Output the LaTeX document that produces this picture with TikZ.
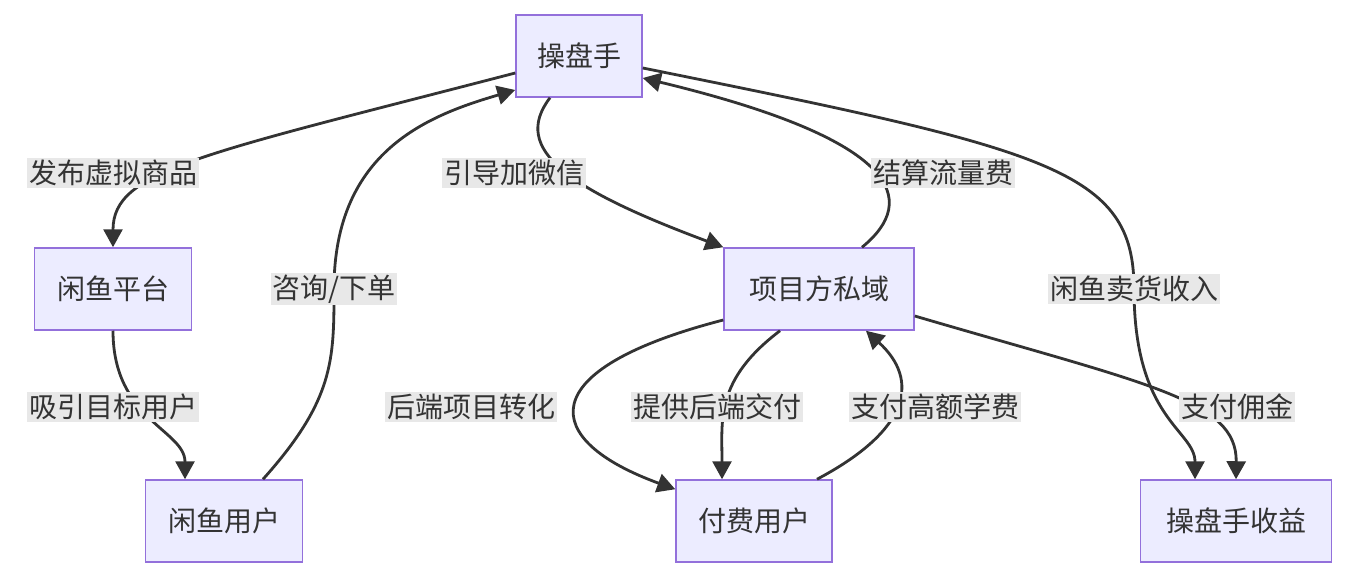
\documentclass[tikz,border=0pt]{standalone}
\usepackage{fontspec}
\setmainfont{Noto Sans CJK SC}
\usetikzlibrary{arrows.meta}
\definecolor{nodefill}{HTML}{ECECFF}
\definecolor{nodeline}{HTML}{9370DB}
\definecolor{edge}{HTML}{333333}
\definecolor{lblbg}{HTML}{E8E8E8}
\begin{document}
\begin{tikzpicture}[x=1pt,y=-1pt,
  box/.style={draw=nodeline,fill=nodefill,line width=1.5pt,minimum height=82pt,inner sep=0pt,font=\fontsize{28}{34}\selectfont,text=edge},
  lbl/.style={fill=lblbg,inner sep=2pt,font=\fontsize{28}{34}\selectfont,text=edge},
  arr/.style={draw=edge,line width=2.8pt,-{Triangle[length=18pt,width=19pt]}}]
\useasboundingbox (0,0) rectangle (1348,580);
\node[box,minimum width=126pt] (cp) at (579,56) {操盘手};
\node[box,minimum width=157pt] (pf) at (113,289) {闲鱼平台};
\node[box,minimum width=157pt] (xu) at (224,521) {闲鱼用户};
\node[box,minimum width=190pt] (pr) at (819,289) {项目方私域};
\node[box,minimum width=156pt] (ff) at (754,521) {付费用户};
\node[box,minimum width=191pt] (sy) at (1236,521) {操盘手收益};

\draw[arr] ([yshift=-17pt]cp.west) .. controls (200,155) and (113,170) .. (pf.north);
\draw[arr] (pf.south) .. controls (113,420) and (185,430) .. ([xshift=-39pt]xu.north);
\draw[arr] ([xshift=39pt]xu.north) .. controls (334,400) and (334,360) .. (334,289) .. controls (334,150) and (430,115) .. ([yshift=-34pt]cp.west);
\draw[arr] ([xshift=-29pt]cp.south) .. controls (510,150) and (570,190) .. (pr.north west);
\draw[arr] ([xshift=43pt]pr.north) .. controls (920,200) and (900,140) .. ([yshift=-22pt]cp.east);
\draw[arr] ([yshift=-12pt]cp.east) .. controls (1050,150) and (1134,170) .. (1134,289) .. controls (1134,420) and (1195,430) .. ([xshift=-41pt]sy.north);
\draw[arr] ([yshift=-31pt]pr.west) .. controls (530,370) and (540,440) .. ([yshift=-10pt]ff.north west);
\draw[arr] ([xshift=-39pt]pr.south) .. controls (715,380) and (722,420) .. ([xshift=-32pt]ff.north);
\draw[arr] ([xshift=63pt]ff.north) .. controls (910,430) and (920,380) .. ([xshift=47pt]pr.south);
\draw[arr] ([yshift=-27pt]pr.east) .. controls (1150,385) and (1237,400) .. (sy.north);

\node[lbl] (l1) at (113,173) {发布虚拟商品};
\node[lbl] (l2) at (113,407) {吸引目标用户};
\node[lbl] (l3) at (334,289) {咨询/下单};
\node[lbl] (l4) at (514,173) {引导加微信};
\node[lbl] (l5) at (943,173) {结算流量费};
\node[lbl] (l6) at (1134,289) {闲鱼卖货收入};
\node[lbl] (l7) at (471,407) {后端项目转化};
\node[lbl] (l8) at (717,407) {提供后端交付};
\node[lbl] (l9) at (935,407) {支付高额学费};
\node[lbl] (l10) at (1237,407) {支付佣金};
\end{tikzpicture}
\end{document}
